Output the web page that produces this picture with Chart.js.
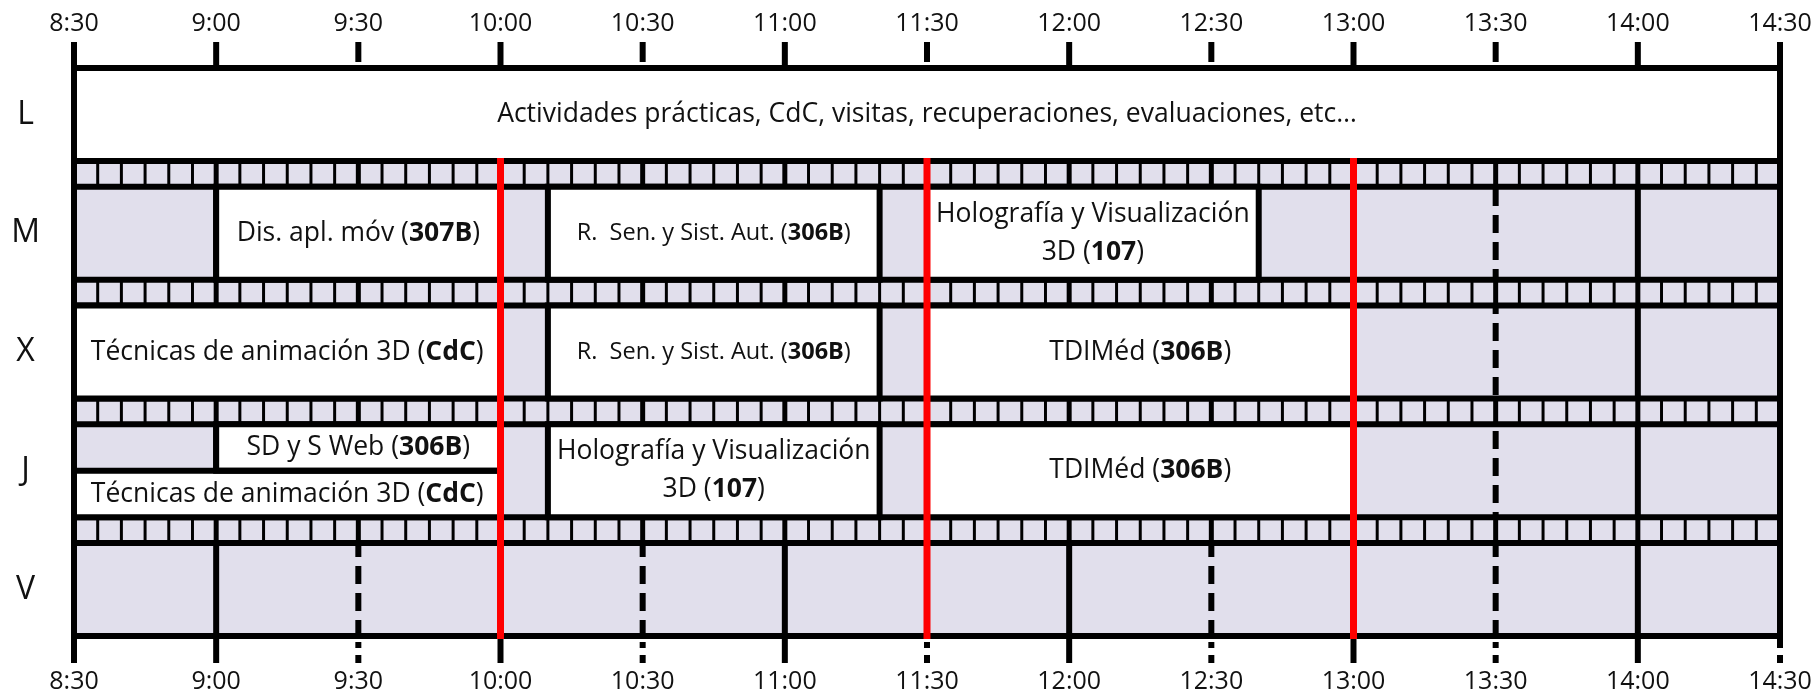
<!DOCTYPE html>
<html>
<head>
<meta charset="utf-8">
<script src="https://cdn.jsdelivr.net/npm/chart.js@4"></script>
<style>
  html, body { margin: 0; padding: 0; background: #fff; }
</style>
</head>
<body>
<canvas id="horario" width="1817" height="695"></canvas>
<script>
// --- data ---
const days = ['L', 'M', 'X', 'J', 'V'];
const timeTicks = ['8:30', '9:00', '9:30', '10:00', '10:30', '11:00', '11:30', '12:00', '12:30', '13:00', '13:30', '14:00', '14:30'];
const breakLines = ['10:00', '11:30', '13:00'];

const classDay   = ['L', 'M', 'M', 'M', 'X', 'X', 'X', 'J', 'J', 'J', 'J'];
const classStart = ['8:30', '9:00', '10:10', '11:30', '8:30', '10:10', '11:30', '9:00', '8:30', '10:10', '11:30'];
const classEnd   = ['14:30', '10:00', '11:20', '12:40', '10:00', '11:20', '13:00', '10:00', '10:00', '11:20', '13:00'];
const classHalf  = ['', '', '', '', '', '', '', 'top', 'bottom', '', ''];
const classText  = [
  'Actividades prácticas, CdC, visitas, recuperaciones, evaluaciones, etc…',
  'Dis. apl. móv (**307B**)',
  'R.  Sen. y Sist. Aut. (**306B**)',
  'Holografía y Visualización\n3D (**107**)',
  'Técnicas de animación 3D (**CdC**)',
  'R.  Sen. y Sist. Aut. (**306B**)',
  'TDIMéd (**306B**)',
  'SD y S Web (**306B**)',
  'Técnicas de animación 3D (**CdC**)',
  'Holografía y Visualización\n3D (**107**)',
  'TDIMéd (**306B**)'
];

// --- helpers ---
const toMin = t => { const [h, m] = t.split(':').map(Number); return h * 60 + m; };
const fmt = v => Math.floor(v / 60) + ':' + String(v % 60).padStart(2, '0');

const FONT = '"Open Sans", sans-serif';
const LAV = '#e1dfec';
const INK = '#000';
const TXT = '#111';
const LW = 6;
const PAD = 0.3916;      // half row height, in row units
const HALF_OFF = 0.1958; // centre of half rows

const tMin = toMin(timeTicks[0]);
const tMax = toMin(timeTicks[timeTicks.length - 1]);

const fullRows = [], halfRows = [];
classText.forEach((t, i) => {
  const d = days.indexOf(classDay[i]);
  const h = classHalf[i];
  const pt = {
    x: [toMin(classStart[i]), toMin(classEnd[i])],
    y: d + (h === 'top' ? -HALF_OFF : h === 'bottom' ? HALF_OFF : 0),
    text: t
  };
  (h ? halfRows : fullRows).push(pt);
});

function drawRich(ctx, text, cx, cy, size) {
  const lines = text.split('\n');
  const lh = size * 1.44;
  ctx.textBaseline = 'middle';
  ctx.textAlign = 'left';
  ctx.fillStyle = TXT;
  lines.forEach((line, k) => {
    const parts = line.split('**').map((s, j) => ({ s, bold: j % 2 === 1 }));
    let w = 0;
    parts.forEach(p => { ctx.font = (p.bold ? '700 ' : '400 ') + size + 'px ' + FONT; p.w = ctx.measureText(p.s).width; w += p.w; });
    let x = cx - w / 2;
    const y = cy + (k - (lines.length - 1) / 2) * lh;
    parts.forEach(p => { ctx.font = (p.bold ? '700 ' : '400 ') + size + 'px ' + FONT; ctx.fillText(p.s, x, y); x += p.w; });
  });
}

function vline(ctx, x, y0, y1, w, color, dash) {
  ctx.beginPath();
  ctx.setLineDash(dash || []);
  ctx.lineWidth = w;
  ctx.strokeStyle = color;
  ctx.moveTo(x, y0);
  ctx.lineTo(x, y1);
  ctx.stroke();
  ctx.setLineDash([]);
}
function hline(ctx, y, x0, x1, w, color) {
  ctx.beginPath();
  ctx.lineWidth = w;
  ctx.strokeStyle = color;
  ctx.moveTo(x0, y);
  ctx.lineTo(x1, y);
  ctx.stroke();
}

const gridPlugin = {
  id: 'timetableGrid',
  beforeDatasetsDraw(chart) {
    const { ctx, chartArea: a, scales } = chart;
    const xs = scales.x, ys = scales.y;
    const unit = Math.abs(ys.getPixelForValue(1) - ys.getPixelForValue(0));
    const halfH = unit * PAD;
    ctx.save();
    ctx.fillStyle = LAV;
    ctx.fillRect(a.left, a.top, a.right - a.left, a.bottom - a.top);

    // vertical grid in the rows
    const y0 = ys.getPixelForValue(0) + halfH;
    timeTicks.slice(1, -1).forEach(t => {
      const v = toMin(t), px = xs.getPixelForValue(v);
      const fullHour = v % 60 === 0;
      vline(ctx, px, y0, a.bottom, LW, INK, fullHour ? [] : [18, 9]);
    });

    // strips between days (5-minute cells)
    for (let i = 0; i < days.length - 1; i++) {
      const sTop = ys.getPixelForValue(i) + halfH;
      const sBot = ys.getPixelForValue(i + 1) - halfH;
      ctx.fillStyle = LAV;
      ctx.fillRect(a.left, sTop, a.right - a.left, sBot - sTop);
      for (let v = tMin + 5; v < tMax; v += 5) {
        const px = xs.getPixelForValue(v);
        vline(ctx, px, sTop, sBot, v % 30 === 0 ? 5 : 3, INK);
      }
    }

    // row edges
    days.forEach((d, i) => {
      const c = ys.getPixelForValue(i);
      hline(ctx, c - halfH, a.left - LW / 2, a.right + LW / 2, LW, INK);
      hline(ctx, c + halfH, a.left - LW / 2, a.right + LW / 2, LW, INK);
    });
    ctx.restore();
  },
  afterDatasetsDraw(chart) {
    const { ctx, chartArea: a, scales } = chart;
    const xs = scales.x, ys = scales.y;
    const unit = Math.abs(ys.getPixelForValue(1) - ys.getPixelForValue(0));
    const halfH = unit * PAD;
    ctx.save();

    // box outlines
    chart.data.datasets.forEach((ds, di) => {
      chart.getDatasetMeta(di).data.forEach(el => {
        const p = el.getProps(['x', 'y', 'base', 'height'], true);
        ctx.lineWidth = LW;
        ctx.strokeStyle = INK;
        ctx.lineJoin = 'miter';
        ctx.strokeRect(p.base, p.y - p.height / 2, p.x - p.base, p.height);
      });
    });

    // axis ticks
    const tickTop = a.top - 26;
    timeTicks.forEach((t, i) => {
      const v = toMin(t), px = xs.getPixelForValue(v);
      const edge = i === 0 || i === timeTicks.length - 1;
      const fullHour = v % 60 === 0;
      if (edge || fullHour) vline(ctx, px, tickTop, a.top, LW, INK);
      else vline(ctx, px, tickTop, a.top - 6, LW, INK);
      if (i === 0 || fullHour) {
        vline(ctx, px, a.bottom, a.bottom + 27, LW, INK);
      } else {
        vline(ctx, px, a.bottom + 6, a.bottom + 12, LW, INK);
        vline(ctx, px, a.bottom + 19, a.bottom + 27, LW, INK);
      }
    });
    // outer borders
    vline(ctx, a.left, tickTop, a.bottom + 27, LW, INK);
    vline(ctx, a.right, tickTop, a.bottom + 11, LW, INK);

    // break lines
    breakLines.forEach(t => {
      const px = xs.getPixelForValue(toMin(t));
      vline(ctx, px, ys.getPixelForValue(0) + halfH - 3, a.bottom + 3, 7, '#ff0000');
    });

    // labels
    chart.data.datasets.forEach((ds, di) => {
      chart.getDatasetMeta(di).data.forEach((el, j) => {
        const raw = ds.data[j];
        const p = el.getProps(['x', 'y', 'base'], true);
        const size = raw.text.startsWith('R. ') ? 23.5 : 26.5;
        drawRich(ctx, raw.text, (p.base + p.x) / 2, p.y, size);
      });
    });
    ctx.restore();
  }
};

const noOverhang = s => { s.paddingLeft = 0; s.paddingRight = 0; s.paddingTop = 0; s.paddingBottom = 0; };

const xAxis = (position, height, padding) => ({
  type: 'linear',
  position,
  min: tMin,
  max: tMax,
  offset: false,
  afterFit: s => { s.height = height; noOverhang(s); },
  afterBuildTicks: s => { s.ticks = timeTicks.map(t => ({ value: toMin(t) })); },
  grid: { display: false, drawTicks: false },
  border: { display: false },
  ticks: {
    autoSkip: false,
    maxRotation: 0,
    padding,
    color: TXT,
    font: { family: FONT, size: 25 },
    callback: v => fmt(v)
  }
});

new Chart(document.getElementById('horario'), {
  type: 'bar',
  data: {
    datasets: [
      { data: fullRows, backgroundColor: '#ffffff', borderWidth: 0, barThickness: 93, grouped: false },
      { data: halfRows, backgroundColor: '#ffffff', borderWidth: 0, barThickness: 46.5, grouped: false }
    ]
  },
  options: {
    indexAxis: 'y',
    responsive: false,
    animation: false,
    devicePixelRatio: 1,
    layout: { padding: { left: 0, right: 37, top: 0, bottom: 0 } },
    plugins: { legend: { display: false }, tooltip: { enabled: false } },
    scales: {
      x: xAxis('bottom', 59, 31),
      xTop: xAxis('top', 68, 29),
      y: {
        type: 'linear',
        reverse: true,
        offset: false,
        min: -PAD,
        max: days.length - 1 + PAD,
        afterFit: s => { s.width = 74; noOverhang(s); },
        afterBuildTicks: s => { s.ticks = days.map((d, i) => ({ value: i })); },
        grid: { display: false, drawTicks: false },
        border: { display: false },
        ticks: {
          padding: 34,
          crossAlign: 'center',
          color: TXT,
          font: { family: FONT, size: 32 },
          callback: v => days[v]
        }
      }
    }
  },
  plugins: [gridPlugin]
});
</script>
</body>
</html>
